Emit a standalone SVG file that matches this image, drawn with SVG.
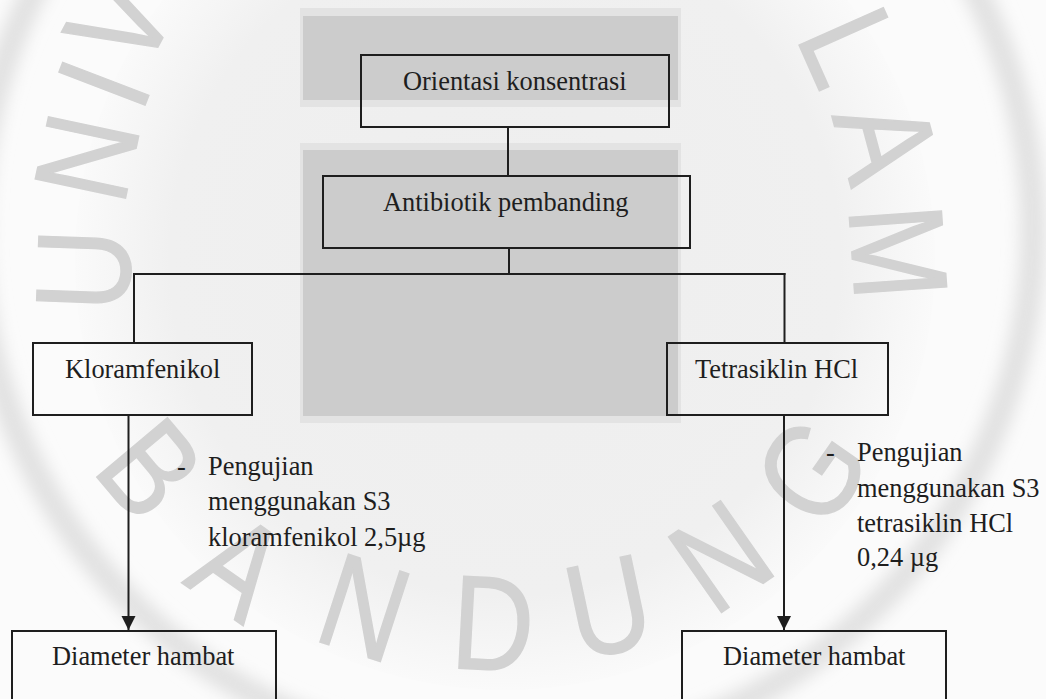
<svg xmlns="http://www.w3.org/2000/svg" width="1046" height="699" viewBox="0 0 1046 699">
<defs>
<style>
.box{fill:none;stroke:#1e1e1e;stroke-width:2}
.ln{fill:none;stroke:#1e1e1e;stroke-width:2}
.lbl{font-family:"Liberation Serif","Times New Roman",serif;font-size:26.4px;fill:#1e1e1e}
.wm{font-family:"Liberation Sans",Arial,sans-serif;font-size:134px;fill:#d2d2d2;stroke:#d2d2d2;stroke-width:1.5;text-anchor:middle}
.halo{fill:#e3e3e3}
.core{fill:#cccccc}
</style>
<marker id="ah" markerUnits="userSpaceOnUse" markerWidth="16" markerHeight="16" refX="14" refY="7" orient="auto"><path d="M0,0 L14,7 L0,14 z" fill="#1e1e1e"/></marker>
<radialGradient id="bg" cx="505" cy="260" r="430" gradientUnits="userSpaceOnUse">
<stop offset="0" stop-color="#eeeeee"/><stop offset="0.78" stop-color="#f0f0f0"/><stop offset="1" stop-color="#fafafa"/>
</radialGradient>
<filter id="blur" x="-20%" y="-20%" width="140%" height="140%"><feGaussianBlur stdDeviation="8"/></filter>
</defs>

<g id="background">
<rect x="0" y="0" width="1046" height="699" fill="#fbfbfb"/>
<circle cx="505" cy="260" r="430" fill="url(#bg)"/>
<circle cx="505" cy="230" r="528" fill="none" stroke="#e2e2e2" stroke-width="26" filter="url(#blur)"/>
</g>

<g id="watermark">
<text class="wm" transform="translate(118,20) rotate(-62) scale(0.85,1)" x="0" y="48">V</text>
<text class="wm" transform="translate(102,83) rotate(-69) scale(0.85,1)" x="0" y="48">I</text>
<text class="wm" transform="translate(85,157) rotate(-78) scale(0.85,1)" x="0" y="48">N</text>
<text class="wm" transform="translate(82,270) rotate(-88) scale(0.85,1)" x="0" y="48">U</text>
<text class="wm" transform="translate(852,46) rotate(66) scale(0.85,1)" x="0" y="48">L</text>
<text class="wm" transform="translate(888,140) rotate(75) scale(0.85,1)" x="0" y="48">A</text>
<text class="wm" transform="translate(900,252) rotate(86) scale(0.85,1)" x="0" y="48">M</text>
<text class="wm" transform="translate(152,468) rotate(50) scale(0.85,1)" x="0" y="48">B</text>
<text class="wm" transform="translate(240,565) rotate(35) scale(0.85,1)" x="0" y="48">A</text>
<text class="wm" transform="translate(365,606) rotate(18) scale(0.85,1)" x="0" y="48">N</text>
<text class="wm" transform="translate(493,622) rotate(3) scale(0.85,1)" x="0" y="48">D</text>
<text class="wm" transform="translate(608,605) rotate(-12) scale(0.85,1)" x="0" y="48">U</text>
<text class="wm" transform="translate(720,555) rotate(-35) scale(0.85,1)" x="0" y="48">N</text>
<text class="wm" transform="translate(810,470) rotate(-55) scale(0.85,1)" x="0" y="48">G</text>
</g>

<g id="logo-blocks">
<rect class="halo" x="300" y="8" width="381" height="99"/>
<rect class="core" x="303" y="16" width="375" height="84"/>
<rect class="halo" x="300" y="143" width="381" height="280"/>
<rect class="core" x="303" y="150" width="375" height="266"/>
</g>

<g id="connectors">
<line class="ln" x1="508" y1="127" x2="508" y2="176"/>
<line class="ln" x1="509" y1="248" x2="509" y2="274"/>
<line class="ln" x1="133" y1="274" x2="785.5" y2="274"/>
<line class="ln" x1="134" y1="273" x2="134" y2="343"/>
<line class="ln" x1="784.5" y1="273" x2="784.5" y2="343"/>
<line class="ln" x1="128.5" y1="415" x2="128.5" y2="630" marker-end="url(#ah)"/>
<line class="ln" x1="784" y1="415" x2="784" y2="630" marker-end="url(#ah)"/>
</g>

<g id="node-orientasi">
<rect class="box" x="361" y="55" width="308" height="72"/>
<text class="lbl" x="403" y="90">Orientasi konsentrasi</text>
</g>

<g id="node-antibiotik">
<rect class="box" x="323" y="176" width="367" height="72"/>
<text class="lbl" x="383" y="211">Antibiotik pembanding</text>
</g>

<g id="node-kloramfenikol">
<rect class="box" x="33" y="343" width="219" height="72"/>
<text class="lbl" x="65" y="378">Kloramfenikol</text>
</g>

<g id="node-tetrasiklin">
<rect class="box" x="667" y="343" width="221" height="72"/>
<text class="lbl" x="695" y="378">Tetrasiklin HCl</text>
</g>

<g id="note-left">
<text class="lbl" x="177" y="475">-</text>
<text class="lbl" x="208" y="475">Pengujian</text>
<text class="lbl" x="208" y="510">menggunakan S3</text>
<text class="lbl" x="208" y="545.5">kloramfenikol 2,5µg</text>
</g>

<g id="note-right">
<text class="lbl" x="826" y="461">-</text>
<text class="lbl" x="857" y="461">Pengujian</text>
<text class="lbl" x="857" y="496.5">menggunakan S3</text>
<text class="lbl" x="857" y="531.5">tetrasiklin HCl</text>
<text class="lbl" x="857" y="566">0,24 µg</text>
</g>

<g id="node-diameter-left">
<rect class="box" x="12" y="631" width="264" height="80"/>
<text class="lbl" x="52" y="665">Diameter hambat</text>
</g>

<g id="node-diameter-right">
<rect class="box" x="682" y="631" width="264" height="80"/>
<text class="lbl" x="723" y="665">Diameter hambat</text>
</g>
</svg>
